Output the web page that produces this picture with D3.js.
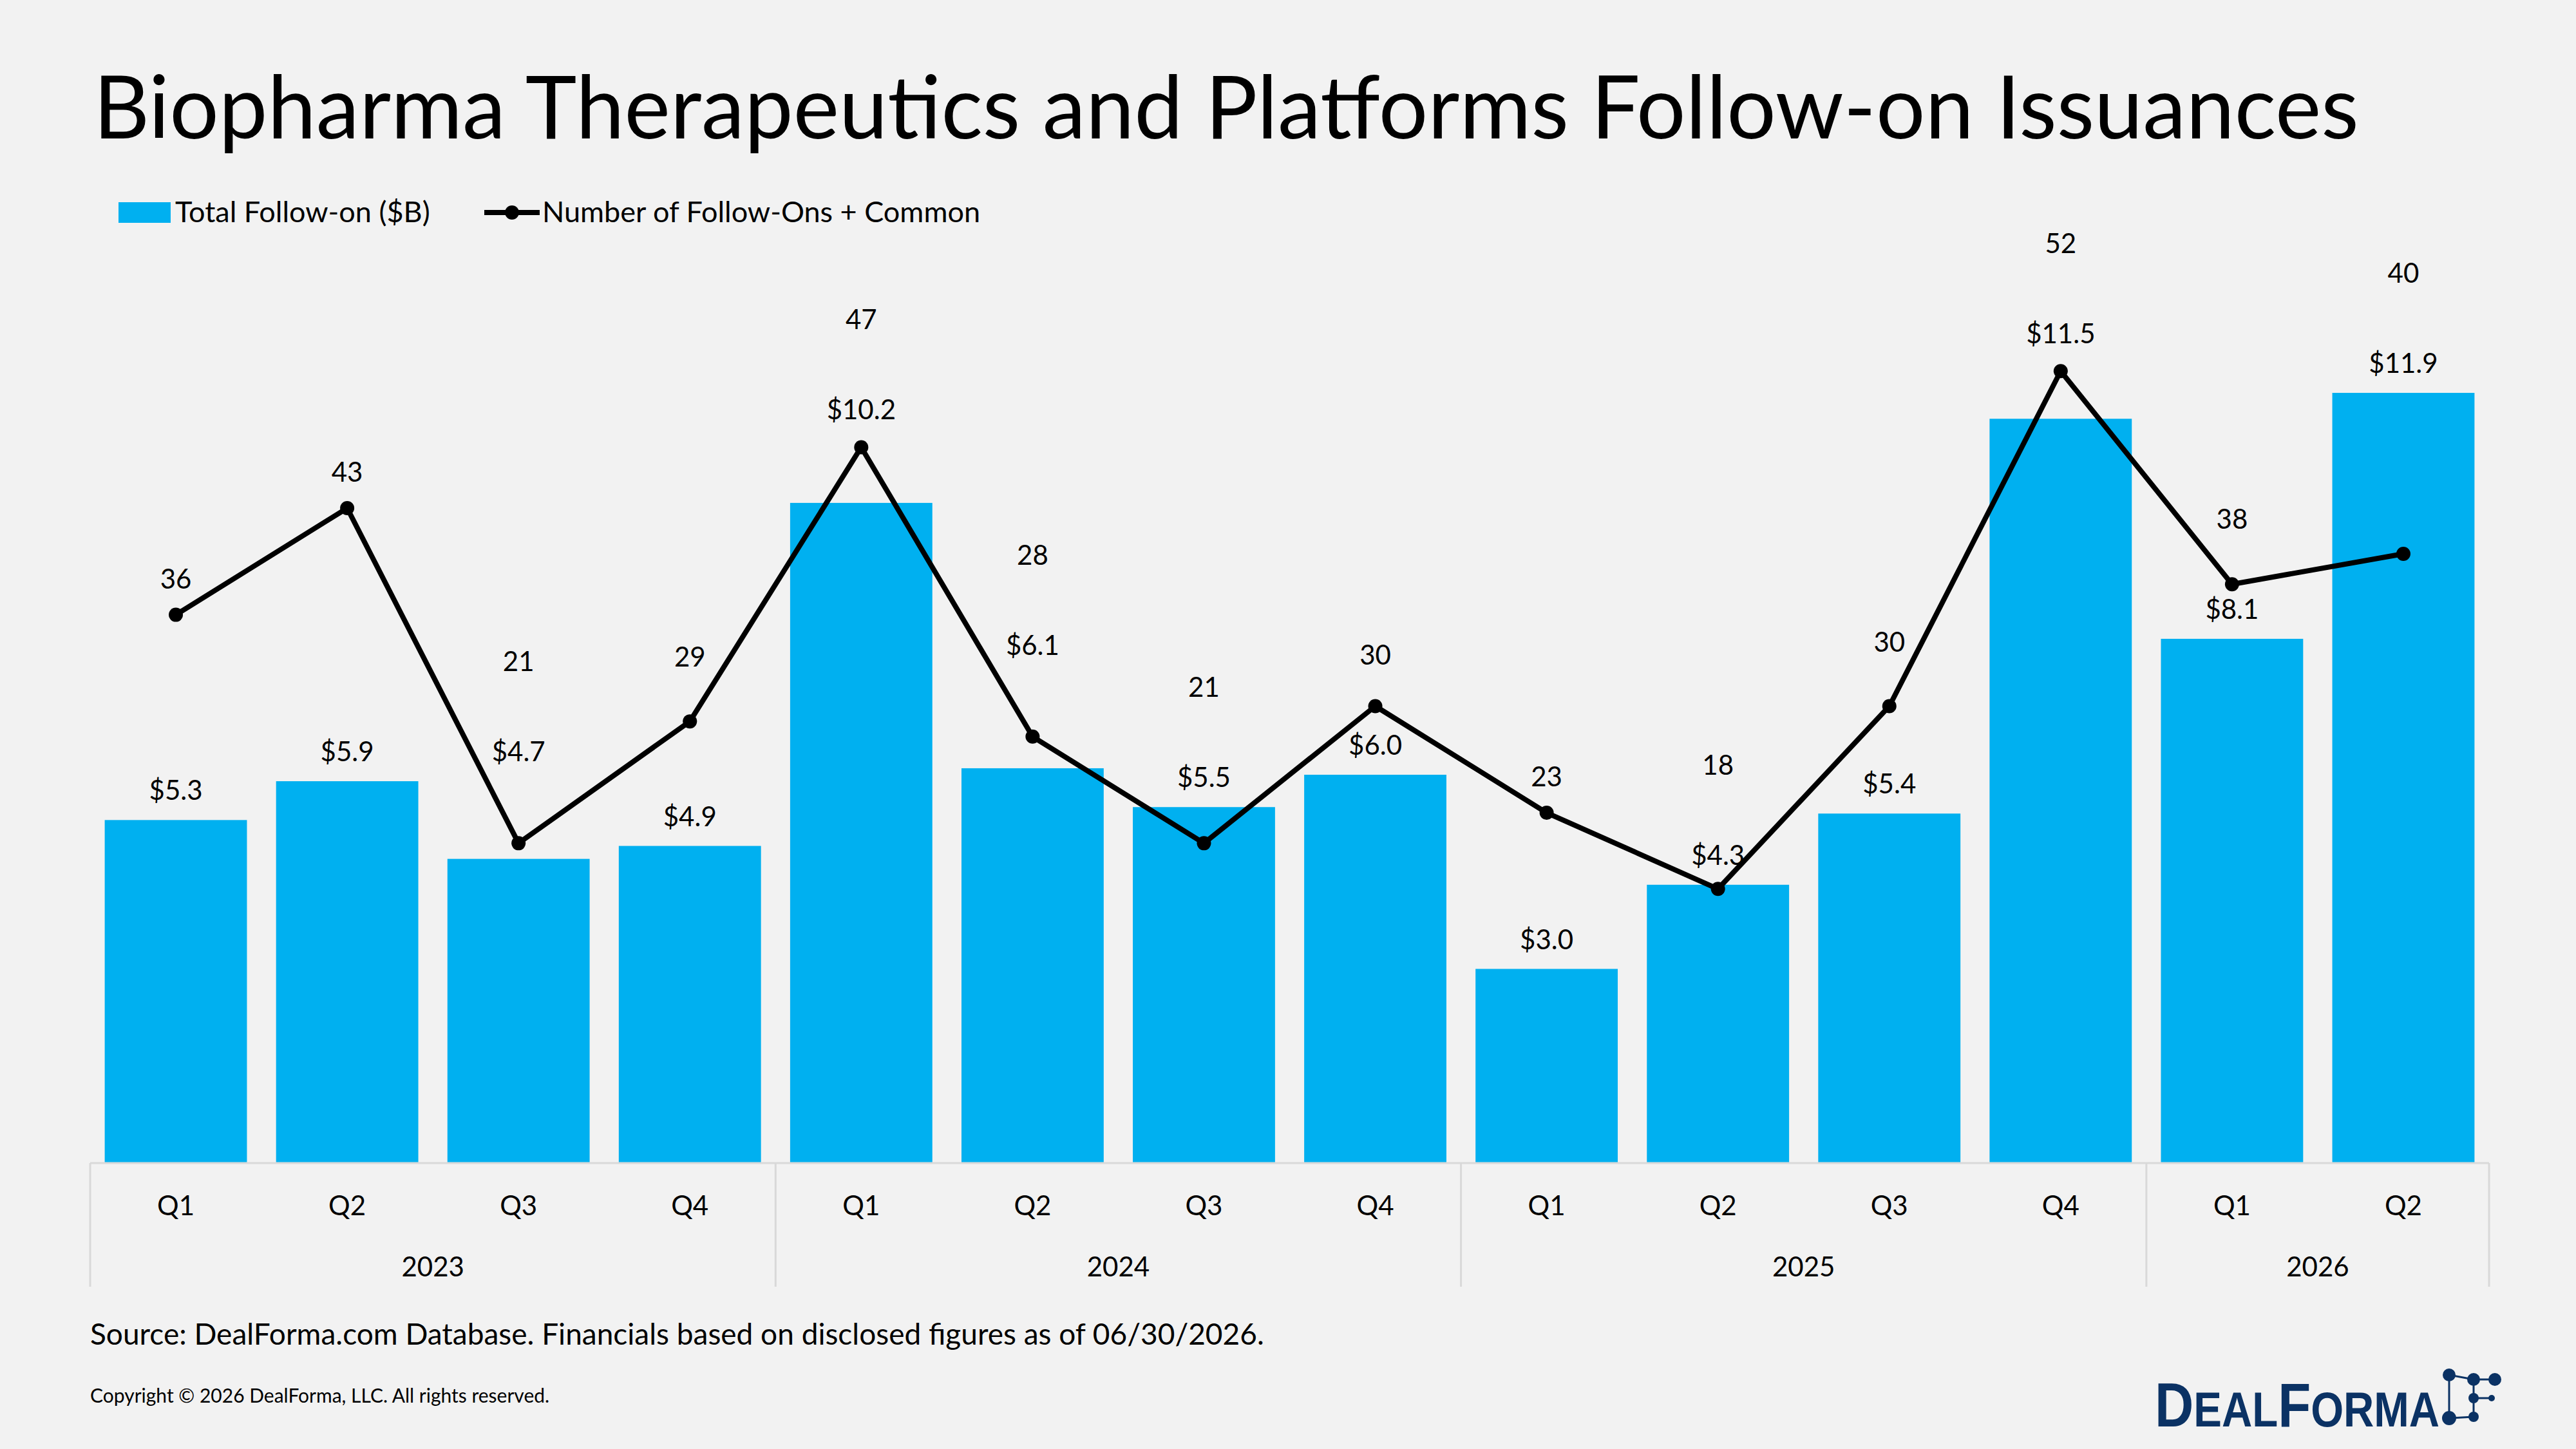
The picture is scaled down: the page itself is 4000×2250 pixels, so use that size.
<!DOCTYPE html>
<html lang="en">
<head>
<meta charset="UTF-8">
<script src="https://cdn.jsdelivr.net/npm/d3@7/dist/d3.min.js"></script>
<title>Biopharma Follow-on Issuances</title>
<style>
  body { margin: 0; background: #f2f2f2; }
  svg { display: block; font-family: Lato, "Open Sans", sans-serif; }
</style>
</head>
<body>
<script>
const quarters = ["Q1","Q2","Q3","Q4","Q1","Q2","Q3","Q4","Q1","Q2","Q3","Q4","Q1","Q2"]
const years = ["2023","2023","2023","2023","2024","2024","2024","2024","2025","2025","2025","2025","2026","2026"]
const totals = [5.3, 5.9, 4.7, 4.9, 10.2, 6.1, 5.5, 6.0, 3.0, 4.3, 5.4, 11.5, 8.1, 11.9]
const counts = [36, 43, 21, 29, 47, 28, 21, 30, 23, 18, 30, 52, 38, 40]
// quarters where the $ label sits above the line marker instead of the bar
const liftedBarLabels = new Set([2, 4, 5, 11])

const width = 4000, height = 2250
const svg = d3.select("body").append("svg")
  .attr("width", width).attr("height", height)
svg.append("rect").attr("width", width).attr("height", height).attr("fill", "#f2f2f2")

const left = 140, right = 3865, base = 1806
const keys = d3.range(quarters.length)
const x = d3.scaleBand().domain(keys).range([left, right]).paddingInner(0.17).paddingOuter(0.085)
const yBar = d3.scaleLinear().domain([0, 12]).range([base, 600])
const yLine = d3.scaleLinear().domain([0, 60]).range([base, 387])

// title
svg.append("text").attr("x", 145).attr("y", 215)
  .attr("font-size", 135).attr("fill", "#000")
  .text("Biopharma Therapeutics and Platforms Follow-on Issuances")

// legend
const lg = svg.append("g").attr("font-size", 45).attr("fill", "#000")
lg.append("rect").attr("x", 184).attr("y", 314).attr("width", 81).attr("height", 32).attr("fill", "#00b0f0")
lg.append("text").attr("x", 272).attr("y", 345).text("Total Follow-on ($B)")
lg.append("line").attr("x1", 752).attr("x2", 838).attr("y1", 330).attr("y2", 330)
  .attr("stroke", "#000").attr("stroke-width", 8)
lg.append("circle").attr("cx", 795).attr("cy", 330).attr("r", 11).attr("fill", "#000")
lg.append("text").attr("x", 842).attr("y", 345).text("Number of Follow-Ons + Common")

// bars
svg.append("g").selectAll("rect").data(keys).join("rect")
  .attr("x", i => x(i)).attr("width", x.bandwidth())
  .attr("y", i => yBar(totals[i])).attr("height", i => base - yBar(totals[i]))
  .attr("fill", "#00b0f0")

// line
const cx = i => x(i) + x.bandwidth() / 2
svg.append("path").datum(keys)
  .attr("d", d3.line().x(cx).y(i => yLine(counts[i])))
  .attr("fill", "none").attr("stroke", "#000").attr("stroke-width", 8)
  .attr("stroke-linejoin", "round")
svg.append("g").selectAll("circle").data(keys).join("circle")
  .attr("cx", cx).attr("cy", i => yLine(counts[i])).attr("r", 11).attr("fill", "#000")

// data labels (y = label centre)
function barLabelY(i) {
  const top = yBar(totals[i]), p = yLine(counts[i])
  if (liftedBarLabels.has(i)) return p - top > -50 ? p - 142 : p - 58
  return top - 46
}
function lineLabelY(i) {
  const p = yLine(counts[i])
  // keep the count clear of a rising line segment
  const off = (i > 0 && i < counts.length - 1 && counts[i - 1] < counts[i] && counts[i + 1] > counts[i]) ? 100 : 56
  return Math.min(p - off, barLabelY(i) - 140)
}
const lab = svg.append("g").attr("font-size", 42).attr("fill", "#000").attr("text-anchor", "middle")
lab.selectAll(".b").data(keys).join("text").attr("class", "b")
  .attr("x", cx).attr("y", i => barLabelY(i) + 15)
  .text(i => "$" + d3.format(".1f")(totals[i]))
lab.selectAll(".c").data(keys).join("text").attr("class", "c")
  .attr("x", cx).attr("y", i => lineLabelY(i) + 15)
  .text(i => counts[i])

// axis
const ax = svg.append("g")
ax.append("line").attr("x1", left).attr("x2", right).attr("y1", base).attr("y2", base)
  .attr("stroke", "#d9d9d9").attr("stroke-width", 3)
const step = x.step()
const yearList = Array.from(new Set(years))
const bounds = [left]
yearList.forEach(yr => {
  const last = years.lastIndexOf(yr)
  bounds.push(last === years.length - 1 ? right : x(last) + x.bandwidth() + step * 0.085)
})
ax.selectAll(".sep").data(bounds).join("line").attr("class", "sep")
  .attr("x1", d => d).attr("x2", d => d).attr("y1", base).attr("y2", 1998)
  .attr("stroke", "#d9d9d9").attr("stroke-width", 3)
ax.selectAll(".q").data(keys).join("text").attr("class", "q")
  .attr("x", cx).attr("y", 1887).attr("font-size", 42).attr("text-anchor", "middle")
  .text(i => quarters[i])
ax.selectAll(".yr").data(yearList).join("text").attr("class", "yr")
  .attr("x", (d, j) => (bounds[j] + bounds[j + 1]) / 2).attr("y", 1982)
  .attr("font-size", 42).attr("text-anchor", "middle").text(d => d)

// footer
svg.append("text").attr("x", 140).attr("y", 2088).attr("font-size", 46)
  .text("Source: DealForma.com Database. Financials based on disclosed figures as of 06/30/2026.")
svg.append("text").attr("x", 140).attr("y", 2178).attr("font-size", 30)
  .text("Copyright \u00a9 2026 DealForma, LLC. All rights reserved.")

// logo: small-caps word mark laid out piece by piece
const logo = svg.append("g").attr("fill", "#0b3264")
const word = logo.append("g").attr("font-family", "'Liberation Sans', Arial, sans-serif").attr("font-weight", "bold")
let lx = 0
;[["D", 97], ["EAL", 76], ["F", 97], ["ORMA", 76]].forEach(([s, fs]) => {
  const el = word.append("text").attr("x", lx).attr("y", 0).attr("font-size", fs).text(s)
  lx += el.node().getComputedTextLength()
})
word.attr("transform", `translate(3346,2215) scale(${442 / lx},1)`)
const links = [[3803,2135,3841,2142],[3841,2142,3874,2142],[3803,2135,3803,2202],[3841,2142,3841,2200],[3841,2171,3869,2171],[3803,2202,3841,2200]]
logo.selectAll("line").data(links).join("line")
  .attr("x1", d => d[0]).attr("y1", d => d[1]).attr("x2", d => d[2]).attr("y2", d => d[3])
  .attr("stroke", "#0b3264").attr("stroke-width", 3)
const dots = [[3803,2135,10],[3841,2142,10],[3874,2142,10],[3841,2171,8],[3869,2171,5],[3803,2202,11],[3841,2200,8]]
logo.selectAll("circle").data(dots).join("circle")
  .attr("cx", d => d[0]).attr("cy", d => d[1]).attr("r", d => d[2])
</script>
</body>
</html>
